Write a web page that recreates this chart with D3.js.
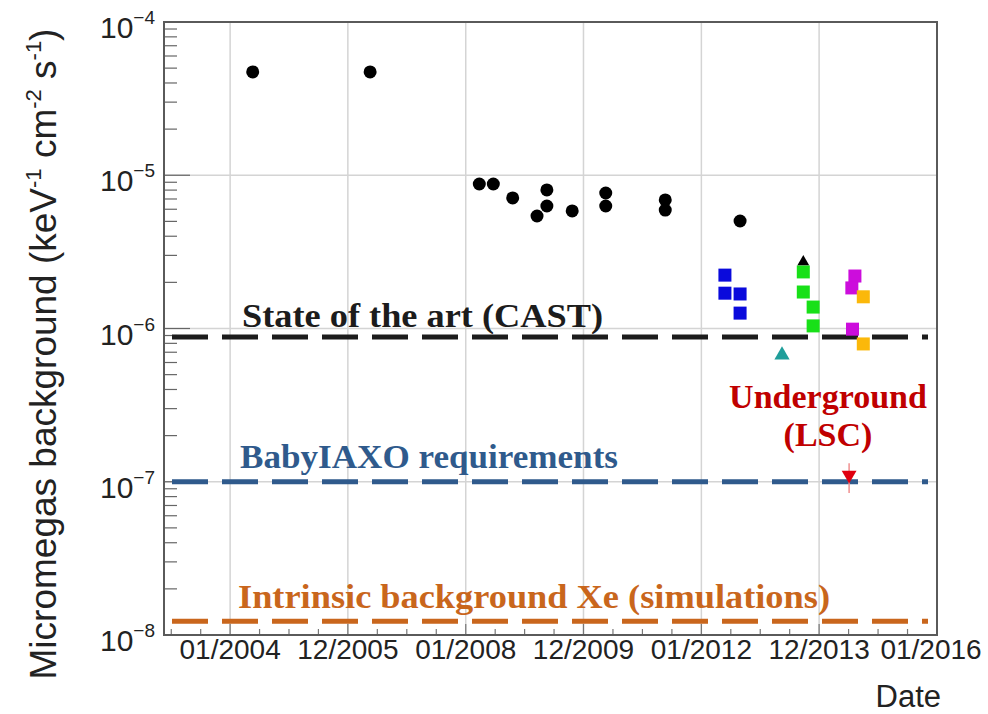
<!DOCTYPE html>
<html>
<head>
<meta charset="utf-8">
<script src="https://cdn.jsdelivr.net/npm/d3@7"></script>
<style>
  body { margin: 0; background: #fff; }
</style>
</head>
<body>
<div id="chart"></div>
<script>
// ---- data ----
// black circles (earlier Micromegas detectors)
const circleDates  = ["2004-05-20", "2006-05-18", "2008-03-25", "2008-06-20", "2008-10-18",
                      "2009-03-18", "2009-05-18", "2009-05-18", "2009-10-22",
                      "2010-05-18", "2010-05-18", "2011-05-22", "2011-05-22", "2012-08-28"];
const circleValues = [4.72e-5, 4.72e-5, 8.77e-6, 8.77e-6, 7.11e-6,
                      5.42e-6, 8.02e-6, 6.30e-6, 5.85e-6,
                      7.66e-6, 6.30e-6, 6.90e-6, 5.93e-6, 5.03e-6];

// coloured squares
const blueDates    = ["2012-05-26", "2012-05-26", "2012-08-28", "2012-08-28"];
const blueValues   = [2.23e-6, 1.70e-6, 1.68e-6, 1.26e-6];
const greenDates   = ["2013-09-24", "2013-09-24", "2013-11-24", "2013-11-24"];
const greenValues  = [2.34e-6, 1.73e-6, 1.38e-6, 1.04e-6];
const magentaDates = ["2014-08-10", "2014-07-22", "2014-07-26"];
const magentaValues= [2.20e-6, 1.84e-6, 9.9e-7];
const orangeDates  = ["2014-10-01", "2014-10-01"];
const orangeValues = [1.61e-6, 7.93e-7];

// triangles
const blackTriDate = "2013-09-24", blackTriValue = 2.72e-6;
const tealTriDate  = "2013-05-15", tealTriValue  = 6.71e-7;
const undergroundDate = "2014-07-05";
const undergroundValue = 1.107e-7, undergroundLow = 8.45e-8, undergroundHigh = 1.32e-7;

// reference levels
const refNames  = ["State of the art (CAST)", "BabyIAXO requirements", "Intrinsic background Xe (simulations)"];
const refValues = [8.8e-7, 1.0e-7, 1.23e-8];
const refColors = ["#1c1c1c", "#2f5a8c", "#c9661c"];

// axes
const xTickDates = ["2004-01-01", "2005-12-31", "2008-01-01", "2009-12-31", "2012-01-01", "2013-12-31", "2016-01-01"];
const yDecades = [-8, -7, -6, -5, -4];

const parse = d3.timeParse("%Y-%m-%d");
const fmt = d3.timeFormat("%m/%Y");

const W = 988, H = 714;
const pLeft = 164, pRight = 937, pTop = 22, pBottom = 635;

const svg = d3.select("#chart").append("svg")
    .attr("width", W).attr("height", H)
    .style("font-family", "'Liberation Sans', Arial, sans-serif");

svg.append("rect").attr("width", W).attr("height", H).attr("fill", "#fff");

const x = d3.scaleTime()
    .domain([new Date(2002, 10, 17), parse("2016-01-01")])
    .range([pLeft, pRight]);

const y = d3.scaleLog()
    .domain([1e-8, 1e-4])
    .range([pBottom, pTop]);

// grid
const majorX = xTickDates.map(parse);
svg.append("g").selectAll("line")
    .data(majorX)
    .enter().append("line")
    .attr("x1", d => x(d)).attr("x2", d => x(d))
    .attr("y1", pTop).attr("y2", pBottom)
    .attr("stroke", "#d4d4d4").attr("stroke-width", 1.5);

svg.append("g").selectAll("line")
    .data([1e-7, 1e-6, 1e-5])
    .enter().append("line")
    .attr("x1", pLeft).attr("x2", pRight)
    .attr("y1", d => y(d)).attr("y2", d => y(d))
    .attr("stroke", "#d4d4d4").attr("stroke-width", 1.5);

// y ticks (inside, left side)
let yMinor = [];
yDecades.slice(0, -1).forEach(e => {
    for (let k = 2; k <= 9; k++) yMinor.push(k * Math.pow(10, e));
});
svg.append("g").selectAll("line")
    .data(yMinor)
    .enter().append("line")
    .attr("x1", pLeft).attr("x2", pLeft + 13)
    .attr("y1", d => y(d)).attr("y2", d => y(d))
    .attr("stroke", "#666").attr("stroke-width", 1.2);
svg.append("g").selectAll("line")
    .data(yDecades)
    .enter().append("line")
    .attr("x1", pLeft).attr("x2", pLeft + 26)
    .attr("y1", d => y(Math.pow(10, d))).attr("y2", d => y(Math.pow(10, d)))
    .attr("stroke", "#666").attr("stroke-width", 1.2);

// x ticks (inside, bottom)
const majorPx = majorX.map(d => x(d));
let minorPx = [];
const step = (majorPx[1] - majorPx[0]) / 4;
for (let p = majorPx[0] - step; p > pLeft + 2; p -= step) minorPx.push(p);
for (let i = 0; i < majorPx.length - 1; i++) {
    const s = (majorPx[i + 1] - majorPx[i]) / 4;
    for (let k = 1; k < 4; k++) minorPx.push(majorPx[i] + k * s);
}
svg.append("g").selectAll("line")
    .data(minorPx)
    .enter().append("line")
    .attr("x1", d => d).attr("x2", d => d)
    .attr("y1", pBottom).attr("y2", pBottom - 6)
    .attr("stroke", "#777").attr("stroke-width", 1.2);
svg.append("g").selectAll("line")
    .data(majorPx)
    .enter().append("line")
    .attr("x1", d => d).attr("x2", d => d)
    .attr("y1", pBottom).attr("y2", pBottom - 11)
    .attr("stroke", "#777").attr("stroke-width", 1.2);

// frame
svg.append("rect")
    .attr("x", pLeft).attr("y", pTop)
    .attr("width", pRight - pLeft).attr("height", pBottom - pTop)
    .attr("fill", "none").attr("stroke", "#5a5a5a").attr("stroke-width", 2);

// x tick labels
svg.append("g").selectAll("text")
    .data(majorX)
    .enter().append("text")
    .attr("x", (d, i) => x(d) - (i === majorX.length - 1 ? 6 : 0)).attr("y", 659)
    .attr("text-anchor", "middle")
    .attr("font-size", 28).attr("fill", "#222")
    .text(d => fmt(d));

// y tick labels 10^n
const yLab = svg.append("g").selectAll("text")
    .data(yDecades)
    .enter().append("text")
    .attr("x", 155).attr("y", d => y(Math.pow(10, d)) + 16)
    .attr("text-anchor", "end")
    .attr("fill", "#222");
yLab.append("tspan").attr("font-size", 30).text("10");
yLab.append("tspan").attr("font-size", 19).attr("dy", -14).text(d => "\u2212" + (-d));

// axis titles
svg.append("text")
    .attr("x", 941).attr("y", 707)
    .attr("text-anchor", "end")
    .attr("font-size", 31).attr("fill", "#222")
    .text("Date");

const yt = svg.append("text")
    .attr("transform", "translate(56," + 354 + ") rotate(-90)")
    .attr("text-anchor", "middle")
    .attr("font-size", 37).attr("fill", "#222");
yt.append("tspan").text("Micromegas background (keV");
yt.append("tspan").attr("font-size", 22).attr("dy", -15).text("-1");
yt.append("tspan").attr("dy", 15).text(" cm");
yt.append("tspan").attr("font-size", 22).attr("dy", -15).text("-2");
yt.append("tspan").attr("dy", 15).text(" s");
yt.append("tspan").attr("font-size", 22).attr("dy", -15).text("-1");
yt.append("tspan").attr("dy", 15).text(")");

// reference dashed lines
svg.append("g").selectAll("line")
    .data(refValues)
    .enter().append("line")
    .attr("x1", 172).attr("x2", 928)
    .attr("y1", d => y(d)).attr("y2", d => y(d))
    .attr("stroke", (d, i) => refColors[i])
    .attr("stroke-width", 5)
    .attr("stroke-dasharray", "36,14");

// reference labels
const refLabelPos = [[242, 327, 361], [240, 468, 378], [238, 608, 592]];
svg.append("g").selectAll("text")
    .data(refNames)
    .enter().append("text")
    .attr("x", (d, i) => refLabelPos[i][0])
    .attr("y", (d, i) => refLabelPos[i][1])
    .attr("textLength", (d, i) => refLabelPos[i][2])
    .attr("lengthAdjust", "spacingAndGlyphs")
    .attr("font-family", "'Liberation Serif', 'Times New Roman', serif")
    .attr("font-weight", "bold")
    .attr("font-size", 34)
    .attr("fill", (d, i) => refColors[i])
    .text(d => d);

svg.append("text")
    .attr("x", 828).attr("y", 408)
    .attr("text-anchor", "middle")
    .attr("font-family", "'Liberation Serif', 'Times New Roman', serif")
    .attr("font-weight", "bold").attr("font-size", 34)
    .attr("fill", "#c00000")
    .text("Underground");
svg.append("text")
    .attr("x", 828).attr("y", 446)
    .attr("text-anchor", "middle")
    .attr("font-family", "'Liberation Serif', 'Times New Roman', serif")
    .attr("font-weight", "bold").attr("font-size", 34)
    .attr("fill", "#c00000")
    .text("(LSC)");

// markers
const zip = (ds, vs) => ds.map((d, i) => ({ date: parse(d), value: vs[i] }));

svg.append("g").selectAll("circle")
    .data(zip(circleDates, circleValues))
    .enter().append("circle")
    .attr("cx", d => x(d.date)).attr("cy", d => y(d.value))
    .attr("r", 6.5).attr("fill", "#000");

const sq = 13;
[[blueDates, blueValues, "#0a0adc"],
 [greenDates, greenValues, "#18e018"],
 [magentaDates, magentaValues, "#cc0ddc"],
 [orangeDates, orangeValues, "#fbb80a"]].forEach(([ds, vs, c]) => {
    svg.append("g").selectAll("rect")
        .data(zip(ds, vs))
        .enter().append("rect")
        .attr("x", d => x(d.date) - sq / 2).attr("y", d => y(d.value) - sq / 2)
        .attr("width", sq).attr("height", sq)
        .attr("fill", c);
});

const tri = d3.symbol().type(d3.symbolTriangle);
svg.append("path")
    .attr("d", tri.size(60)())
    .attr("transform", "translate(" + x(parse(blackTriDate)) + "," + y(blackTriValue) + ")")
    .attr("fill", "#000");
svg.append("path")
    .attr("d", tri.size(100)())
    .attr("transform", "translate(" + x(parse(tealTriDate)) + "," + y(tealTriValue) + ")")
    .attr("fill", "#1f9e9a");

// underground point with error bar
const ux = x(parse(undergroundDate));
svg.append("line")
    .attr("x1", ux).attr("x2", ux)
    .attr("y1", y(undergroundLow)).attr("y2", y(undergroundHigh))
    .attr("stroke", "#f09090").attr("stroke-width", 1.5);
svg.append("path")
    .attr("d", tri.size(95)())
    .attr("transform", "translate(" + ux + "," + y(undergroundValue) + ") rotate(180)")
    .attr("fill", "#e00010");
</script>
</body>
</html>
